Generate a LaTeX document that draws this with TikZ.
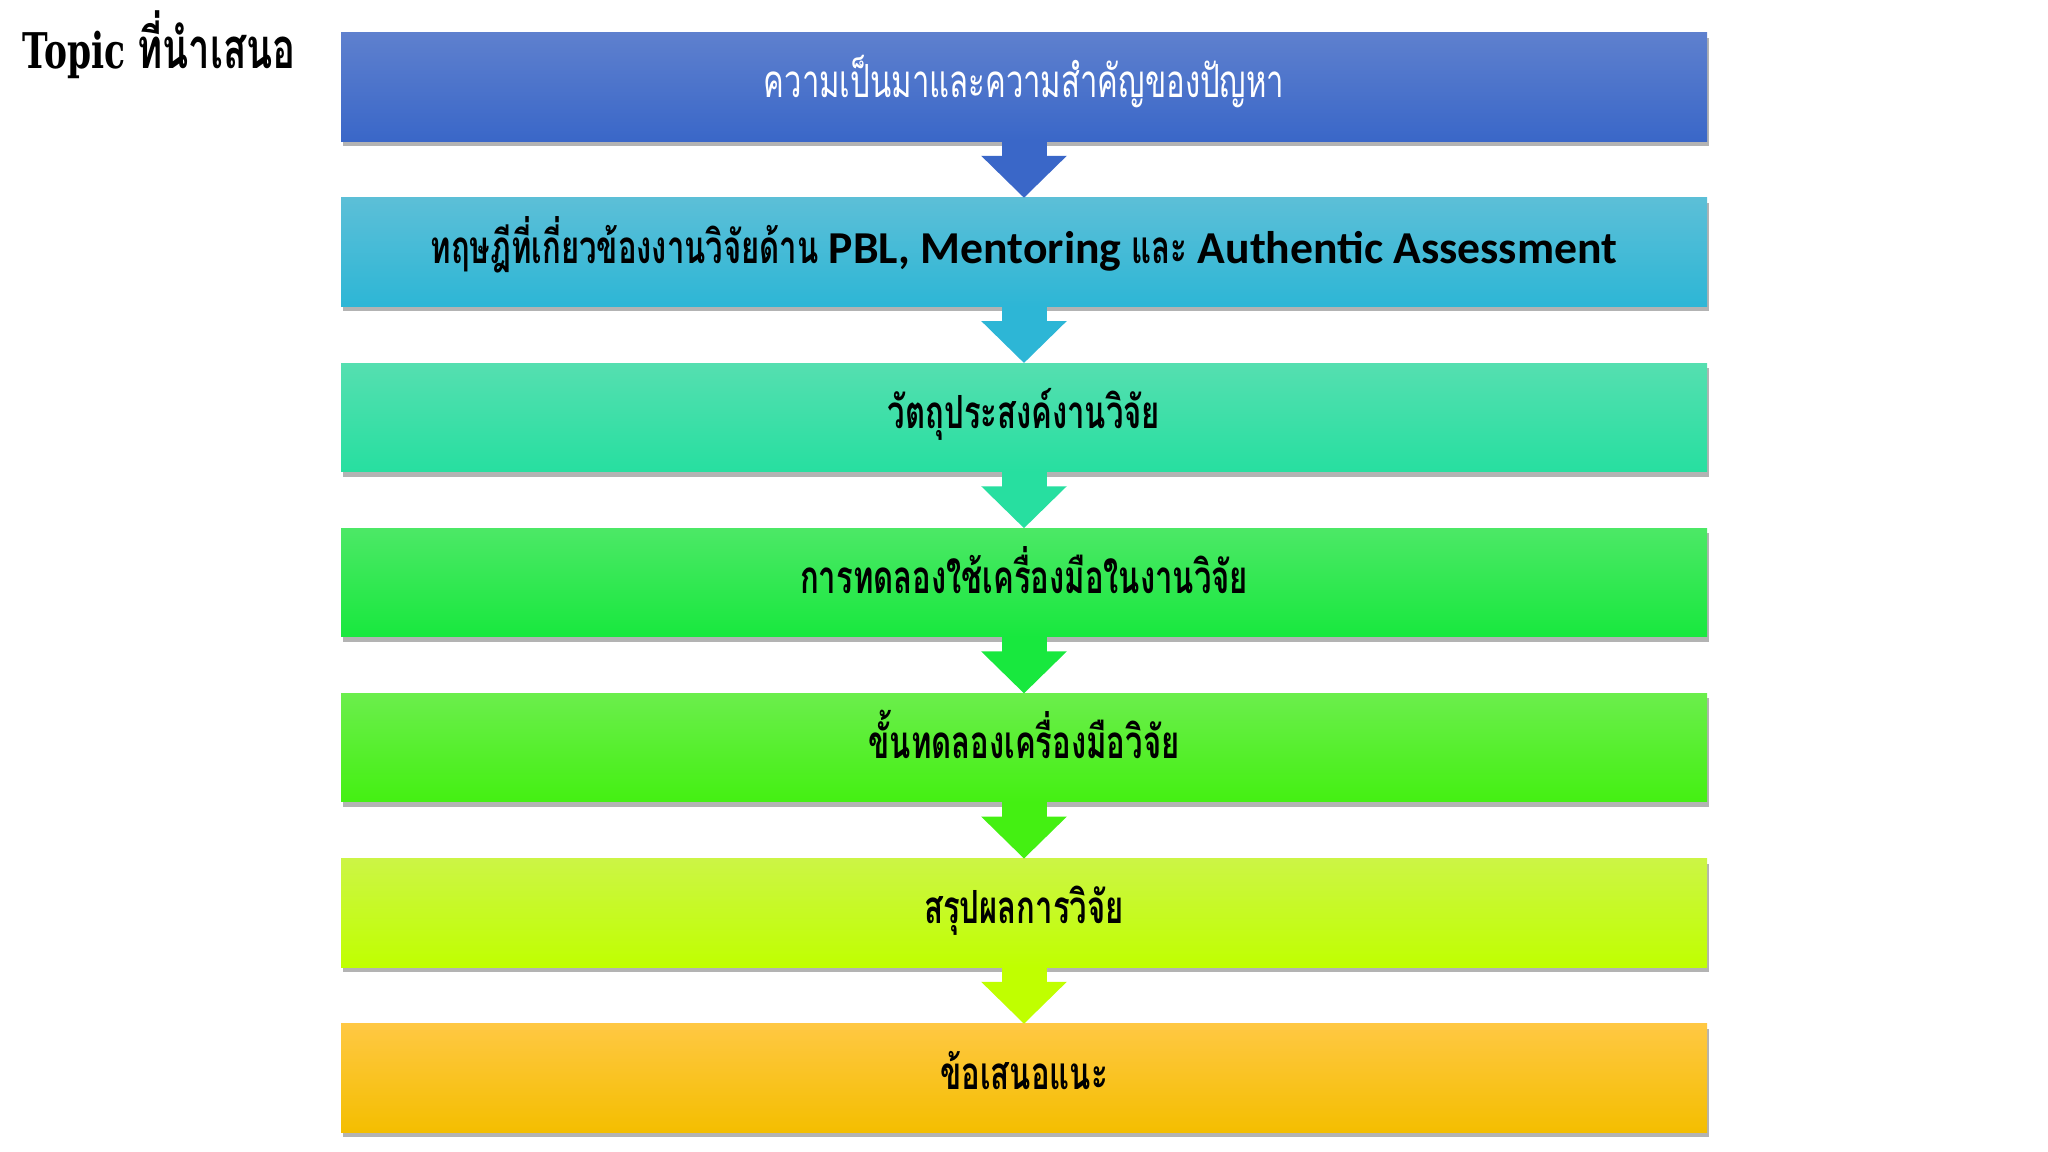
\documentclass[tikz,border=0pt]{standalone}
\usepackage{fontspec}
\setmainfont{Carlito}
\newfontfamily\thaifont[Script=Thai, FakeStretch=0.68]{Loma}
\newfontfamily\titlefont[FakeStretch=0.7]{DejaVu Serif}
\usetikzlibrary{positioning, shadows, arrows.meta}
\definecolor{blautop}{RGB}{94,128,206}
\definecolor{blaubot}{RGB}{58,103,200}
\definecolor{tuerktop}{RGB}{92,191,215}
\definecolor{tuerkbot}{RGB}{45,182,214}
\definecolor{minttop}{RGB}{85,223,176}
\definecolor{mintbot}{RGB}{39,223,160}
\definecolor{gruentop}{RGB}{76,232,102}
\definecolor{gruenbot}{RGB}{24,232,62}
\definecolor{hellgruentop}{RGB}{107,238,76}
\definecolor{hellgruenbot}{RGB}{68,240,18}
\definecolor{limetop}{RGB}{204,245,69}
\definecolor{limebot}{RGB}{192,255,0}
\definecolor{goldtop}{RGB}{255,200,67}
\definecolor{goldbot}{RGB}{244,190,0}
\newcommand{\thfett}{\thaifont\bfseries}

\begin{document}
\begin{tikzpicture}[
    kasten/.style={rectangle, minimum width=13.66cm, minimum height=1.085cm, outer sep=0pt,
      text height=0.42cm, text depth=0.2cm,
      drop shadow={shadow xshift=0.02cm, shadow yshift=-0.05cm, opacity=0.6},
      font=\fontsize{13}{15}\selectfont},
    pfeil/.style={line width=0.45cm, -{Triangle[width=0.83cm, length=0.42cm]}},
    node distance=0.567cm
  ]
    \useasboundingbox (0,0) rectangle (20.48,-11.52);

    \node[anchor=west] (titel) at (0.10,-0.45) {\fontsize{14}{16}\selectfont\titlefont\bfseries Topic {\fontsize{16}{18}\selectfont\thaifont\bfseries ที่นำเสนอ}};

    \node[kasten, top color=blautop, bottom color=blaubot, text=white] (k1) at (10.24,-0.869) {\thaifont ความเป็นมาและความสำคัญของปัญหา};
    \node[kasten, top color=tuerktop, bottom color=tuerkbot, below=of k1] (k2) {{\thfett ทฤษฎีที่เกี่ยวข้องงานวิจัยด้าน} {\bfseries PBL, Mentoring} {\thfett และ} {\bfseries Authentic Assessment}};
    \node[kasten, top color=minttop, bottom color=mintbot, below=of k2] (k3) {\thfett วัตถุประสงค์งานวิจัย};
    \node[kasten, top color=gruentop, bottom color=gruenbot, below=of k3] (k4) {\thfett การทดลองใช้เครื่องมือในงานวิจัย};
    \node[kasten, top color=hellgruentop, bottom color=hellgruenbot, below=of k4] (k5) {\thfett ขั้นทดลองเครื่องมือวิจัย};
    \node[kasten, top color=limetop, bottom color=limebot, below=of k5] (k6) {\thfett สรุปผลการวิจัย};
    \node[kasten, top color=goldtop, bottom color=goldbot, below=of k6] (k7) {\thfett ข้อเสนอแนะ};

    \draw[pfeil, blaubot] (k1.south) -- (k2.north);
    \draw[pfeil, tuerkbot] (k2.south) -- (k3.north);
    \draw[pfeil, mintbot] (k3.south) -- (k4.north);
    \draw[pfeil, gruenbot] (k4.south) -- (k5.north);
    \draw[pfeil, hellgruenbot] (k5.south) -- (k6.north);
    \draw[pfeil, limebot] (k6.south) -- (k7.north);

\end{tikzpicture}
\end{document}
